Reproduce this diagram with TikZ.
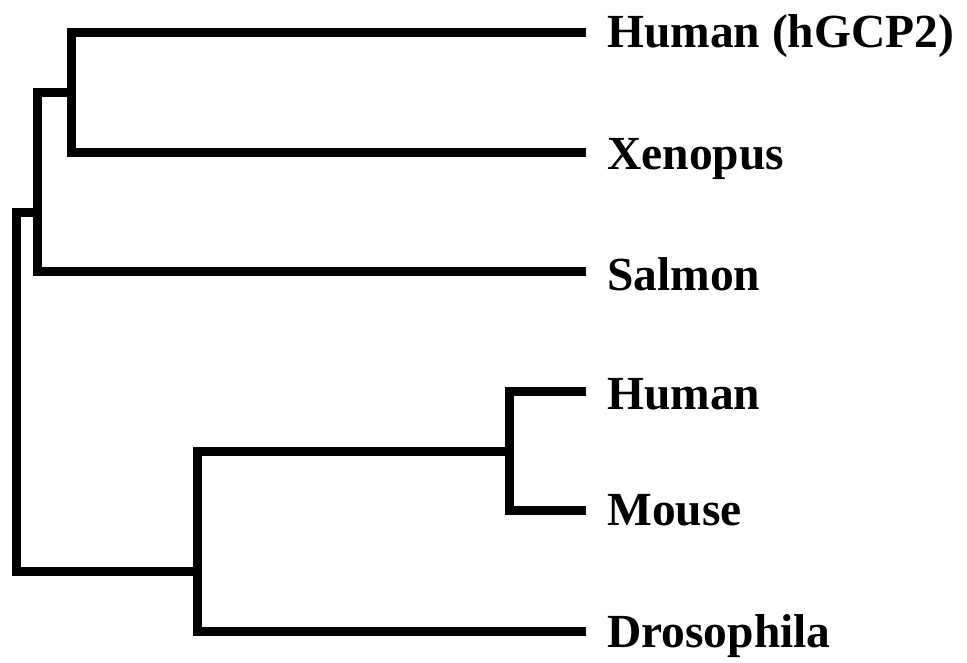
\documentclass[tikz,border=0pt]{standalone}
\usepackage{fontspec}
\setmainfont{Liberation Serif}
\begin{document}
\begin{tikzpicture}[x=1pt,y=-1pt,
  branch/.style={line width=9pt, line join=miter, line cap=butt, black},
  taxon/.style={anchor=base west, inner sep=0pt,
    font=\fontsize{47.5}{50}\selectfont\bfseries}]
\useasboundingbox (0,0) rectangle (967,662);

% branch tips
\coordinate (tA) at (586,32);
\coordinate (tB) at (586,152);
\coordinate (tC) at (586,271);
\coordinate (tD) at (586,391);
\coordinate (tE) at (586,510.5);
\coordinate (tF) at (586,631);

% internal nodes
\coordinate (n1) at (71.5,92);
\coordinate (n2) at (37,212);
\coordinate (root) at (16.5,391);
\coordinate (n3) at (197.5,571);
\coordinate (n4) at (509.5,451);

% taxon labels
\node[taxon] (lA) at (607,47.7) {Human (hGCP2)};
\node[taxon] (lB) at (607,169.5) {Xenopus};
\node[taxon] (lC) at (607,290) {Salmon};
\node[taxon] (lD) at (607,409) {Human};
\node[taxon] (lE) at (607,525) {Mouse};
\node[taxon] (lF) at (607,647) {Drosophila};

% tree branches
\draw[branch] (tA) -| (n1) |- (tB);
\draw[branch] (n1) -| (n2) |- (tC);
\draw[branch] (n2) -| (root) |- (n3);
\draw[branch] (tD) -| (n4) |- (tE);
\draw[branch] (n4) -| (n3) |- (tF);
\end{tikzpicture}
\end{document}
